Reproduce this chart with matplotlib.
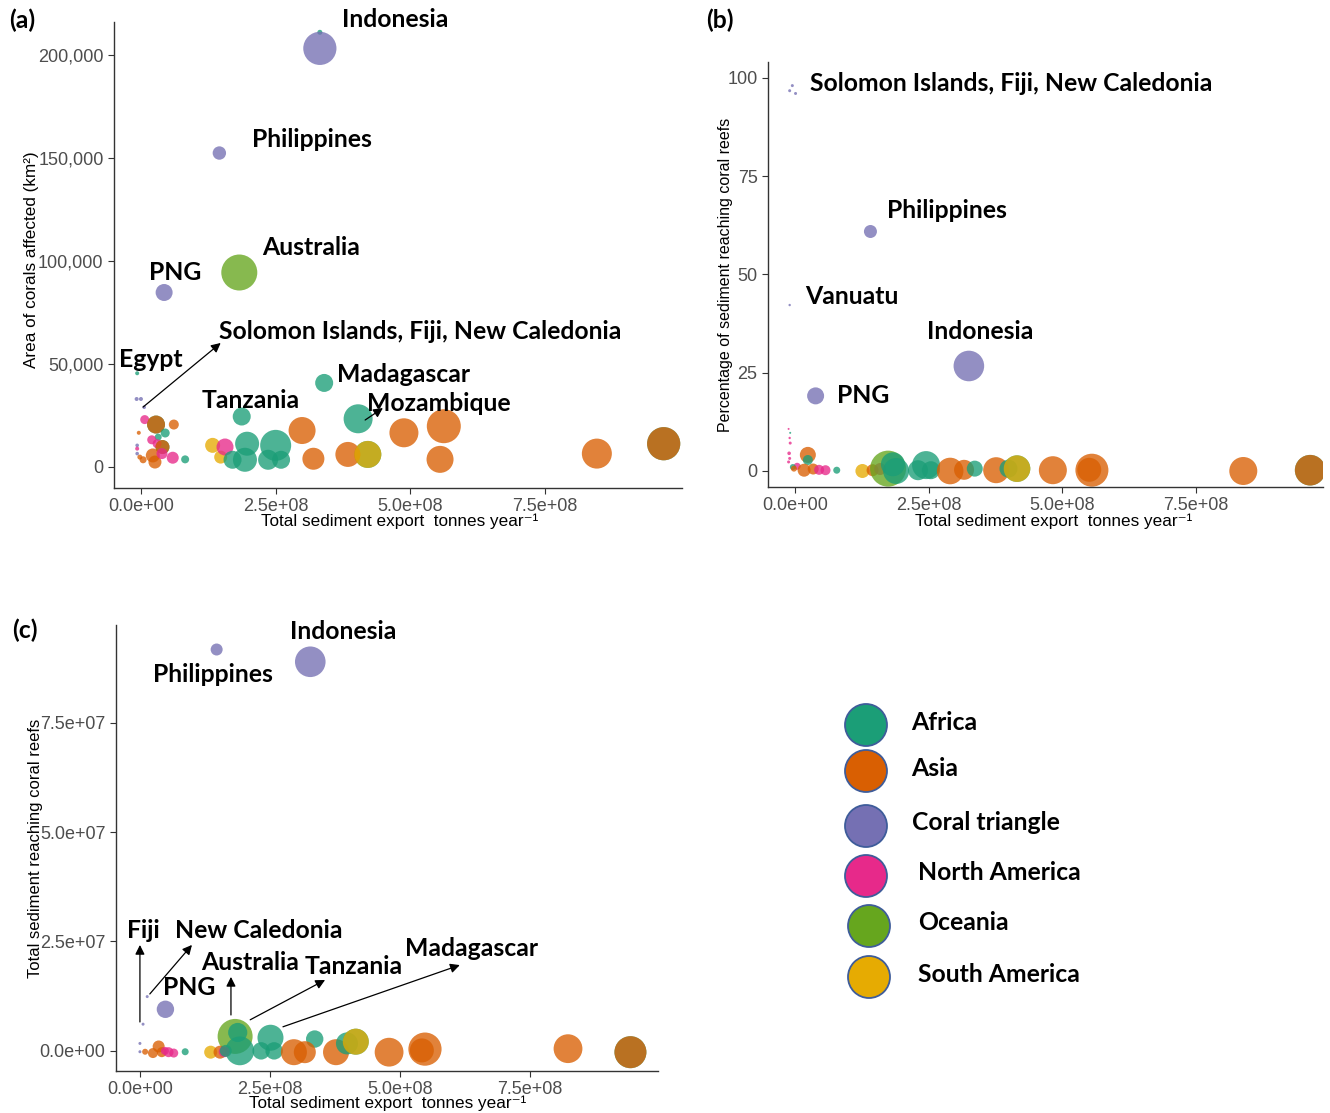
import matplotlib
matplotlib.use("Agg")
import matplotlib.pyplot as plt
from matplotlib.ticker import FuncFormatter

plt.rcParams['font.family'] = ['Liberation Sans', 'DejaVu Sans']

# region codes -> legend names / Dark2 colours
region_codes = ["AF", "AS", "CT", "NA", "OC", "SA"]
region_names = ["Africa", "Asia", "Coral triangle", "North America", "Oceania", "South America"]
region_colors = ["#1B9E77", "#D95F02", "#7570B3", "#E7298A", "#66A61E", "#E6AB02"]

# ---- panel (a): area of corals affected ----
a_region = ["AF", "AF", "AF", "AF", "SA", "NA", "AF", "CT", "CT", "OC", "CT", "AF", "CT", "CT",
            "CT", "NA", "AS", "AS", "AS", "AF", "AF", "NA", "NA", "AS", "CT", "CT", "NA", "AS",
            "AS", "AS", "NA", "NA", "AF", "AS", "SA", "SA", "NA", "AF", "AF", "AF", "AF", "AF",
            "AF", "AF", "AS", "AS", "AF", "AF", "AS", "SA", "AS", "AS", "AS", "AS", "AS"]
a_export = [9.7e8, 4.21e8, 0.28e8, 0.40e8, 5.5e8, 1.93e8, 3.32e8, 3.32e8, 1.455e8, 1.825e8,
            0.43e8, -0.07e8, -0.08e8, 0.0, 0.06e8, 0.07e8, 0.28e8, 0.61e8, -0.04e8, 0.45e8,
            0.32e8, 0.20e8, 0.30e8, 0.40e8, -0.07e8, -0.07e8, -0.07e8, 0.22e8, 0.26e8, 0.04e8,
            0.59e8, 0.39e8, 0.82e8, -0.02e8, 1.33e8, 1.48e8, 1.56e8, 1.70e8, 1.87e8, 1.97e8,
            1.93e8, 2.50e8, 2.36e8, 2.60e8, 2.99e8, 3.20e8, 3.40e8, 4.03e8, 3.84e8, 4.21e8,
            4.88e8, 5.62e8, 5.55e8, 8.46e8, 9.70e8]
a_area = [11300, 6100, 20600, 9700, -24000, -20000, 211000, 203200, 152400, 94400,
          84700, 45500, 33000, 33000, 29000, 23000, 20600, 20600, 16600, 16500,
          14500, 13200, 11300, 9700, 10500, 6500, 8900, 5600, 2400, 3500,
          4500, 6500, 3700, 4800, 10500, 4800, 9700, 3500, 24500, 11300,
          3500, 10500, 3500, 3500, 17700, 4000, 40800, 23400, 6100, 6100,
          16600, 19800, 3700, 6500, 11300]
a_bubble = [16.6, 13.5, 9, 7, 12, 8, 2.5, 16.6, 6.7, 18,
            8.5, 2, 2, 2, 1.8, 4.5, 9, 5, 2, 4.5,
            3.5, 4.5, 4.5, 7, 1.8, 1.8, 2, 7, 6.5, 3.5,
            6, 5.5, 4, 2.5, 7.5, 6.5, 8.5, 9, 9, 12,
            12, 15.5, 10, 9, 13.5, 11, 9, 14.5, 12.5, 13.5,
            14.5, 17, 13.5, 15, 16.6]

# ---- panel (b): percentage of sediment reaching reefs ----
b_region = ["AF", "AF", "CT", "CT", "CT", "CT", "CT", "CT", "CT", "NA", "AF", "NA", "NA", "NA",
            "NA", "NA", "AS", "AF", "NA", "AF", "AS", "AS", "NA", "NA", "AS", "AF", "SA", "AS",
            "NA", "OC", "AF", "AF", "AF", "AF", "AF", "AS", "AS", "AF", "AS", "AF", "SA", "AS",
            "AS", "AS", "AS", "AS"]
b_export = [9.63e8, 4.15e8, -0.05e8, -0.10e8, 0.01e8, 1.41e8, -0.10e8, 3.25e8, 0.385e8,
            -0.12e8, -0.09e8, -0.10e8, -0.09e8, -0.11e8, -0.10e8, -0.12e8, 0.24e8, 0.24e8,
            0.04e8, -0.04e8, 0.17e8, 0.34e8, 0.45e8, 0.57e8, -0.02e8, 0.78e8, 1.26e8, 1.45e8,
            1.59e8, 1.74e8, 1.83e8, 1.89e8, 2.30e8, 2.45e8, 2.54e8, 2.90e8, 3.16e8, 3.36e8,
            3.76e8, 3.99e8, 4.15e8, 4.82e8, 5.55e8, 5.50e8, 8.38e8, 9.63e8]
b_percent = [0.2, 0.6, 98, 96.7, 96, 60.9, 42.2, 26.7, 19.1,
             10.7, 9.7, 8.4, 7.1, 4.5, 3.2, 2.3, 4.1, 2.8,
             1.2, 1.0, 0.2, 0.5, 0.3, 0.2, 0.6, 0.2, 0.0, 0.2,
             0.5, 0.6, 1.7, 0.0, 0.2, 1.5, 0.2, 0.0, 0.3, 0.6,
             0.2, 0.6, 0.6, 0.2, 0.2, 0.3, 0.0, 0.2]
b_bubble = [15.3, 13.3, 1.5, 1.5, 1.5, 6.5, 1.2, 15.3, 8.5,
            1, 1, 1.2, 1.5, 1.8, 1.5, 1.5, 8, 5,
            3.5, 3, 6.5, 5.5, 5, 5, 3, 3.5, 7, 6,
            6, 18, 12, 13, 10, 14, 9, 13.3, 10, 8,
            13, 9, 13.3, 14, 16.5, 12, 14, 15.3]

# ---- panel (c): total sediment reaching reefs ----
c_region = ["AF", "AF", "CT", "CT", "CT", "CT", "CT", "CT", "CT", "OC", "AF", "AF", "AF", "AF",
            "AF", "AF", "AS", "AS", "AS", "AF", "SA", "AS", "AS", "AS", "AS", "AS", "AS", "AS",
            "AS", "NA", "NA", "NA", "AS", "AF", "SA", "AS", "NA", "AF"]
c_export = [9.43e8, 4.15e8, 1.475e8, 3.275e8, 0.14e8, 0.49e8, 0.06e8, 0.0, 0.0, 1.83e8,
            1.88e8, 2.51e8, 3.36e8, 1.92e8, 2.33e8, 2.58e8, 2.96e8, 3.17e8, 3.77e8, 3.98e8,
            4.15e8, 4.79e8, 5.48e8, 5.42e8, 8.23e8, 9.43e8, 0.36e8, 0.25e8, 0.42e8, 0.55e8,
            0.65e8, 0.48e8, 0.10e8, 0.87e8, 1.36e8, 1.54e8, 1.62e8, 1.65e8]
c_reaching = [-0.03e7, 0.21e7, 9.17e7, 8.89e7, 1.24e7, 0.95e7, 0.61e7, 0.17e7, -0.02e7, 0.33e7,
              0.42e7, 0.30e7, 0.27e7, 0.0, 0.0, 0.0, -0.03e7, -0.03e7, -0.03e7, 0.17e7,
              0.21e7, -0.03e7, 0.04e7, 0.01e7, 0.05e7, -0.03e7, 0.10e7, -0.05e7, -0.03e7, -0.03e7,
              -0.05e7, 0.0, -0.02e7, -0.02e7, -0.03e7, -0.03e7, -0.02e7, 0.0]
c_bubble = [16, 13, 6, 15.3, 1.5, 8.7, 1.5, 1.5, 1.5, 17.5,
            9.6, 13, 8.7, 14.4, 8.7, 8.7, 13, 11, 13, 11,
            13, 14.4, 16.6, 12, 14.4, 16, 6, 5, 5, 5,
            4.5, 4, 3, 3.5, 6.5, 6.5, 5.5, 6]

color_of = dict(zip(region_codes, region_colors))
DPI = 100
W, H = 1330, 1113
fig = plt.figure(figsize=(W / DPI, H / DPI), dpi=DPI)

LABEL_FONT = dict(family=['Lato', 'DejaVu Sans'], fontweight='bold', fontsize=17.8, color='black')
sci = FuncFormatter(lambda v, p: "{:.1e}".format(v))


def bubble_area(r):
    # bubble radius (px) -> scatter area (pt^2)
    return (2 * r * 72 / DPI) ** 2


def style_axes(ax):
    for side in ["top", "right"]:
        ax.spines[side].set_visible(False)
    for side in ["left", "bottom"]:
        ax.spines[side].set_color("#333333")
        ax.spines[side].set_linewidth(1.0)
    ax.tick_params(colors="#333333", labelcolor="#4D4D4D", labelsize=13, length=4, width=0.8)
    ax.set_facecolor("white")


def add_axes_px(left, top, right, bottom):
    return fig.add_axes([left / W, 1 - bottom / H, (right - left) / W, (bottom - top) / H])


def draw_bubbles(ax, region, x, y, r):
    ax.scatter(x, y, s=[bubble_area(v) for v in r], c=[color_of[g] for g in region],
               alpha=0.78, linewidths=0, zorder=2)


def arrow(ax, start, end):
    ax.annotate("", xy=end, xytext=start, annotation_clip=False,
                arrowprops=dict(arrowstyle="-|>", color="black", lw=0.9, mutation_scale=14,
                                shrinkA=0, shrinkB=0))


xlab = "Total sediment export  tonnes year\u207b\u00b9"

# ---------- (a) ----------
ax = add_axes_px(114, 22, 682, 488)
style_axes(ax)
draw_bubbles(ax, a_region, a_export, a_area, a_bubble)
ax.set_xlim(-0.5e8, 10.04e8)
ax.set_ylim(-10200, 216000)
ax.set_xticks([0, 2.5e8, 5e8, 7.5e8])
ax.xaxis.set_major_formatter(sci)
ax.set_yticks([0, 50000, 100000, 150000, 200000])
ax.yaxis.set_major_formatter(FuncFormatter(lambda v, p: "{:,.0f}".format(v)))
ax.set_xlabel(xlab, fontsize=12.3, color="black")
ax.set_ylabel("Area of corals affected (km\u00b2)", fontsize=12.3, color="black")
ax.xaxis.set_label_coords(0.503, -0.054)
ax.yaxis.set_label_coords(-0.132, 0.49)
for txt, x, y in [("Indonesia", 4.71e8, 217000), ("Philippines", 3.17e8, 159000),
                  ("Australia", 3.16e8, 106300), ("PNG", 0.63e8, 94200),
                  ("Solomon Islands, Fiji, New Caledonia", 5.18e8, 66000),
                  ("Egypt", 0.19e8, 52400), ("Madagascar", 4.88e8, 44700),
                  ("Tanzania", 2.04e8, 32500), ("Mozambique", 5.53e8, 31000)]:
    ax.text(x, y, txt, ha="center", va="center", clip_on=False, zorder=5, **LABEL_FONT)
arrow(ax, (0.04e8, 29100), (1.48e8, 60200))
arrow(ax, (4.16e8, 22800), (4.49e8, 28600))

# ---------- (b) ----------
ax = add_axes_px(768, 62, 1323, 487)
style_axes(ax)
draw_bubbles(ax, b_region, b_export, b_percent, b_bubble)
ax.set_xlim(-0.505e8, 9.87e8)
ax.set_ylim(-4.07, 104)
ax.set_xticks([0, 2.5e8, 5e8, 7.5e8])
ax.xaxis.set_major_formatter(sci)
ax.set_yticks([0, 25, 50, 75, 100])
ax.set_xlabel(xlab, fontsize=12.3, color="black")
ax.set_ylabel("Percentage of sediment reaching coral reefs", fontsize=11.5, color="black")
ax.xaxis.set_label_coords(0.514, -0.062)
ax.yaxis.set_label_coords(-0.063, 0.5)
for txt, x, y in [("Solomon Islands, Fiji, New Caledonia", 4.04e8, 98.5),
                  ("Philippines", 2.84e8, 66.2), ("Vanuatu", 1.07e8, 44.3),
                  ("Indonesia", 3.46e8, 35.4), ("PNG", 1.27e8, 19.3)]:
    ax.text(x, y, txt, ha="center", va="center", clip_on=False, zorder=5, **LABEL_FONT)

# ---------- (c) ----------
ax = add_axes_px(116, 625, 658, 1071)
style_axes(ax)
draw_bubbles(ax, c_region, c_export, c_reaching, c_bubble)
ax.set_xlim(-0.46e8, 9.96e8)
ax.set_ylim(-0.46e7, 9.73e7)
ax.set_xticks([0, 2.5e8, 5e8, 7.5e8])
ax.xaxis.set_major_formatter(sci)
ax.set_yticks([0, 2.5e7, 5e7, 7.5e7])
ax.yaxis.set_major_formatter(sci)
ax.set_xlabel(xlab, fontsize=12.3, color="black")
ax.set_ylabel("Total sediment reaching coral reefs", fontsize=12, color="black")
ax.xaxis.set_label_coords(0.502, -0.056)
ax.yaxis.set_label_coords(-0.135, 0.5)
for txt, x, y in [("Indonesia", 3.9e8, 9.59e7), ("Philippines", 1.4e8, 8.6e7),
                  ("Fiji", 0.06e8, 2.74e7), ("New Caledonia", 2.29e8, 2.74e7),
                  ("Australia", 2.12e8, 2.03e7), ("Tanzania", 4.1e8, 1.92e7),
                  ("Madagascar", 6.38e8, 2.33e7), ("PNG", 0.94e8, 1.44e7)]:
    ax.text(x, y, txt, ha="center", va="center", clip_on=False, zorder=5, **LABEL_FONT)
arrow(ax, (0.0, 0.66e7), (0.0, 2.42e7))
arrow(ax, (0.19e8, 1.3e7), (1.0e8, 2.42e7))
arrow(ax, (1.75e8, 0.82e7), (1.75e8, 1.69e7))
arrow(ax, (2.12e8, 0.71e7), (3.56e8, 1.62e7))
arrow(ax, (2.75e8, 0.55e7), (6.15e8, 1.96e7))

# ---------- panel letters ----------
for txt, px, py in [("(a)", 22, 20), ("(b)", 720, 20), ("(c)", 25, 630)]:
    fig.text(px / W, 1 - py / H, txt, ha="center", va="center", **LABEL_FONT)

# ---------- legend ----------
lg = fig.add_axes([0, 0, 1, 1], facecolor="none")
lg.set_xlim(0, W)
lg.set_ylim(H, 0)
lg.axis("off")
leg_y = [725, 771, 826, 876, 926, 977]
leg_cx = [866, 866, 866, 866, 869, 869]
leg_tx = [911, 911, 912, 918, 918, 918]
lg.scatter(leg_cx, leg_y, s=bubble_area(21), c=region_colors, edgecolors="#3E5C9A",
           linewidths=1.3, zorder=3)
for name, tx, ty in zip(region_names, leg_tx, leg_y):
    lg.text(tx, ty - 3, name, ha="left", va="center", **LABEL_FONT)

fig.savefig("out.png", dpi=DPI, facecolor="white")
